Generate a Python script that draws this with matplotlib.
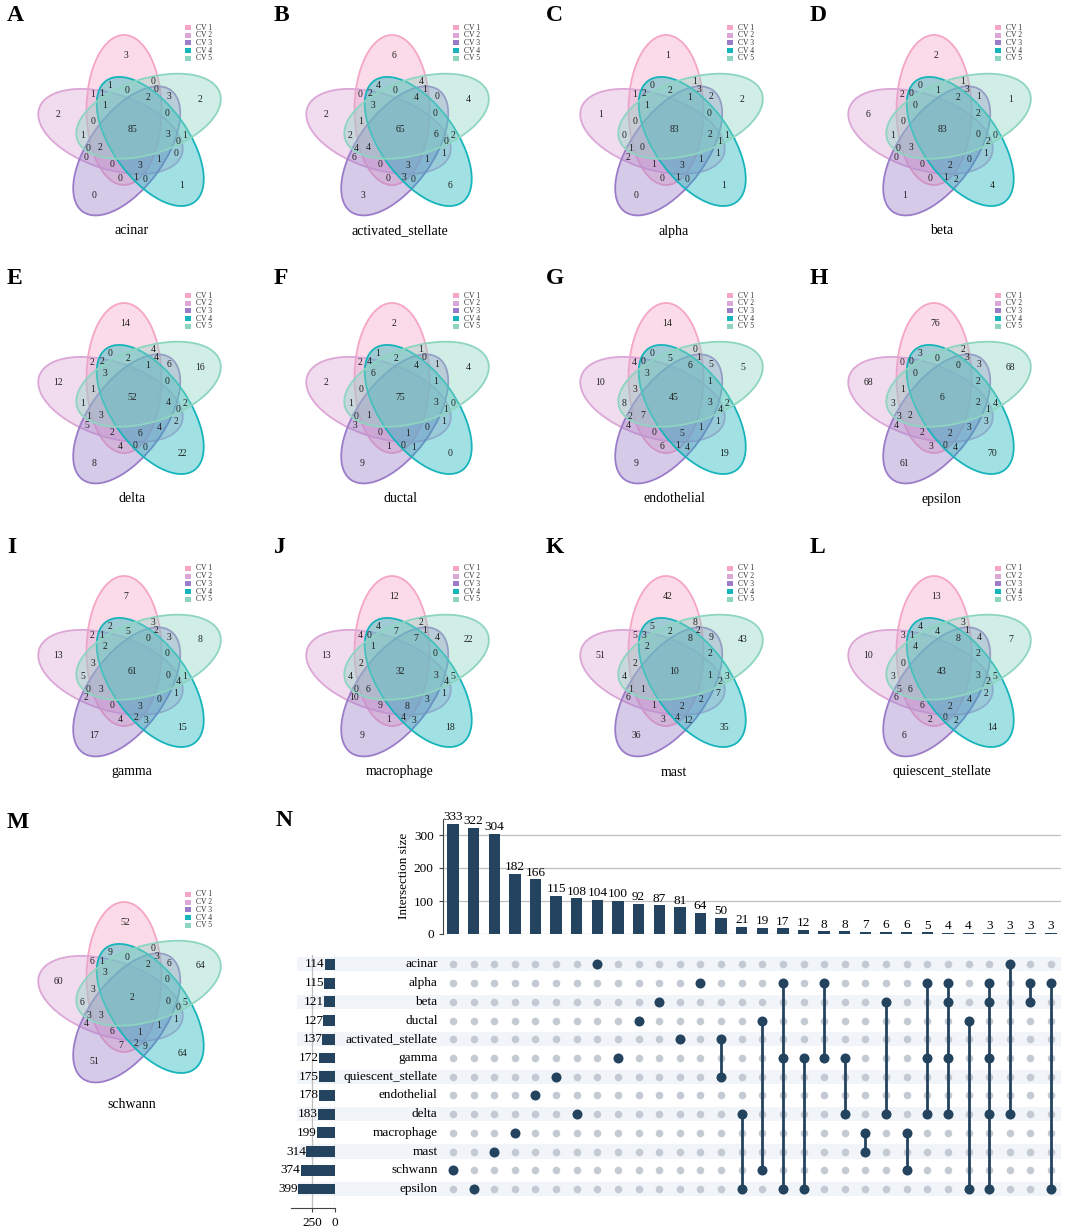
import numpy as np
import matplotlib
matplotlib.use('Agg')
import matplotlib.pyplot as plt
from matplotlib.patches import Ellipse, Rectangle
from matplotlib.colors import to_rgba
import matplotlib.transforms as mtransforms

plt.rcParams['font.family'] = ['Liberation Serif', 'DejaVu Serif']

W, H = 1065, 1228

# ---------------- Venn data (panels A-M) ----------------
cv_names = ['CV 1', 'CV 2', 'CV 3', 'CV 4', 'CV 5']
cv_colors = ['#F5A5C5', '#DCA6D6', '#9A7CC8', '#17B5BB', '#8ED5C1']

# which CV folds share the genes of a region (CV numbers)
region_keys = ['1', '2', '3', '4', '5', '12345',
               '14', '145', '15', '135', '1345', '35', '12', '124', '1245', '125',
               '345', '25', '2345', '45', '245', '235', '1235', '23', '123', '1234',
               '234', '24', '13', '134', '34']

acinar = [3, 2, 0, 1, 2, 85, 1, 0, 0, 0, 2, 3, 1, 1, 1, 0, 0, 1, 3, 1, 0, 0, 2, 0, 0, 3, 1, 0, 0, 1, 0]
activated_stellate = [6, 2, 3, 6, 4, 65, 4, 0, 4, 1, 4, 0, 0, 2, 3, 1, 0, 2, 6, 2, 0, 4, 4, 6, 0, 3, 1, 1, 0, 3, 0]
alpha = [1, 1, 0, 1, 2, 83, 0, 2, 1, 3, 1, 2, 1, 2, 1, 0, 0, 0, 2, 1, 1, 1, 0, 2, 1, 3, 1, 1, 0, 1, 0]
beta = [2, 6, 1, 4, 1, 83, 0, 1, 1, 3, 2, 1, 2, 0, 0, 0, 2, 1, 0, 0, 2, 0, 3, 0, 0, 2, 0, 1, 0, 1, 2]
delta = [14, 12, 8, 22, 16, 52, 0, 2, 4, 4, 1, 6, 2, 2, 3, 1, 0, 1, 4, 2, 0, 1, 3, 5, 2, 6, 4, 2, 4, 0, 0]
ductal = [2, 2, 9, 0, 4, 75, 1, 2, 1, 0, 4, 1, 2, 4, 6, 0, 1, 1, 3, 0, 1, 0, 1, 3, 0, 1, 0, 1, 1, 0, 1]
endothelial = [14, 10, 9, 19, 5, 45, 0, 5, 0, 1, 6, 5, 4, 0, 3, 3, 1, 8, 3, 2, 4, 2, 7, 4, 0, 5, 1, 1, 6, 1, 4]
epsilon = [76, 68, 61, 70, 68, 6, 3, 0, 2, 3, 0, 3, 0, 0, 0, 1, 2, 3, 2, 4, 1, 3, 2, 4, 2, 2, 3, 3, 3, 0, 4]
gamma = [7, 13, 17, 15, 8, 61, 2, 5, 3, 2, 0, 3, 2, 1, 2, 3, 0, 5, 0, 1, 4, 0, 3, 2, 0, 3, 0, 1, 4, 2, 3]
macrophage = [12, 13, 9, 18, 22, 32, 4, 7, 2, 1, 7, 4, 4, 0, 1, 2, 0, 4, 3, 5, 4, 0, 6, 10, 9, 8, 3, 1, 1, 4, 3]
mast = [42, 51, 36, 35, 43, 10, 5, 2, 8, 2, 8, 9, 5, 3, 2, 2, 2, 4, 1, 3, 2, 1, 1, 6, 1, 2, 2, 7, 3, 4, 12]
quiescent_stellate = [13, 10, 6, 14, 7, 43, 4, 4, 3, 1, 8, 4, 3, 1, 4, 0, 2, 3, 3, 5, 2, 5, 6, 6, 6, 2, 4, 2, 2, 0, 2]
schwann = [52, 60, 51, 64, 64, 2, 9, 0, 0, 3, 2, 6, 6, 1, 3, 3, 0, 6, 0, 5, 0, 3, 3, 4, 6, 1, 1, 1, 7, 2, 9]

panels = [
    ('A', 'acinar', acinar), ('B', 'activated_stellate', activated_stellate),
    ('C', 'alpha', alpha), ('D', 'beta', beta),
    ('E', 'delta', delta), ('F', 'ductal', ductal),
    ('G', 'endothelial', endothelial), ('H', 'epsilon', epsilon),
    ('I', 'gamma', gamma), ('J', 'macrophage', macrophage),
    ('K', 'mast', mast), ('L', 'quiescent_stellate', quiescent_stellate),
    ('M', 'schwann', schwann),
]

# ---------------- UpSet data (panel N) ----------------
cell_types = ['acinar', 'alpha', 'beta', 'ductal', 'activated_stellate', 'gamma',
              'quiescent_stellate', 'endothelial', 'delta', 'macrophage', 'mast',
              'schwann', 'epsilon']
set_sizes = [114, 115, 121, 127, 137, 172, 175, 178, 183, 199, 314, 374, 399]
inter_sizes = [333, 322, 304, 182, 166, 115, 108, 104, 100, 92, 87, 81, 64, 50, 21,
               19, 17, 12, 8, 8, 7, 6, 6, 5, 4, 4, 3, 3, 3, 3]
inter_members = [
    ['schwann'], ['epsilon'], ['mast'], ['macrophage'], ['endothelial'],
    ['quiescent_stellate'], ['delta'], ['acinar'], ['gamma'], ['ductal'], ['beta'],
    ['activated_stellate'], ['alpha'], ['activated_stellate', 'quiescent_stellate'],
    ['delta', 'epsilon'], ['ductal', 'schwann'], ['alpha', 'gamma', 'epsilon'],
    ['gamma', 'epsilon'], ['alpha', 'gamma'], ['gamma', 'delta'], ['macrophage', 'mast'],
    ['beta', 'delta'], ['macrophage', 'schwann'], ['alpha', 'gamma', 'delta'],
    ['alpha', 'beta', 'gamma', 'delta'], ['ductal', 'epsilon'],
    ['alpha', 'beta', 'gamma', 'delta', 'epsilon'], ['acinar', 'delta'],
    ['alpha', 'beta'], ['alpha', 'epsilon'],
]

# ---------------- layout ----------------
col_x = [132, 400, 674, 942]
row_y = [130, 398, 671, 997]
letter_x = [7, 274, 546, 810]
letter_y = [5, 268, 537, 812]

semi_a, semi_b = 75.0, 37.5
off_along, off_perp = 20.0, 8.0
angles = [90 + 72 * k for k in range(5)]


def ell_centre(k):
    t = np.deg2rad(angles[k])
    return (off_along * np.cos(t) - off_perp * np.sin(t),
            off_along * np.sin(t) + off_perp * np.cos(t))


# label position of each region = point furthest from all ellipse edges
gx, gy = np.meshgrid(np.arange(-90, 90.01, 0.5), np.arange(-90, 90.01, 0.5))
code = np.zeros(gx.shape, dtype=int)
dmin = np.full(gx.shape, np.inf)
for k in range(5):
    ex, ey = ell_centre(k)
    t = np.deg2rad(angles[k])
    u = (gx - ex) * np.cos(t) + (gy - ey) * np.sin(t)
    v = -(gx - ex) * np.sin(t) + (gy - ey) * np.cos(t)
    g = np.sqrt((u / semi_a) ** 2 + (v / semi_b) ** 2)
    grad = np.sqrt((u / semi_a ** 2) ** 2 + (v / semi_b ** 2) ** 2) / np.maximum(g, 1e-9)
    dmin = np.minimum(dmin, np.abs(g - 1) / np.maximum(grad, 1e-9))
    code += (g < 1).astype(int) << k

label_pos = {}
for key in region_keys:
    c = sum(1 << (int(ch) - 1) for ch in key)
    i = np.argmax(np.where(code == c, dmin, -1))
    label_pos[key] = (gx.flat[i], gy.flat[i])


def box(x0, y0, x1, y1):
    return [x0 / W, 1 - y1 / H, (x1 - x0) / W, (y1 - y0) / H]


fig = plt.figure(figsize=(W / 100, H / 100), dpi=100)
canvas = fig.add_axes([0, 0, 1, 1])
canvas.set_xlim(0, W)
canvas.set_ylim(H, 0)
canvas.axis('off')

for n, (letter, title, vals) in enumerate(panels):
    r, c = divmod(n, 4)
    cx, cy = col_x[c], row_y[r]
    for k in range(5):
        ex, ey = ell_centre(k)
        canvas.add_patch(Ellipse((cx + ex, cy - ey), 2 * semi_a, 2 * semi_b, angle=-angles[k],
                                 facecolor=to_rgba(cv_colors[k], 0.4),
                                 edgecolor=cv_colors[k], lw=1.3))
    for key, val in zip(region_keys, vals):
        px, py = label_pos[key]
        canvas.text(cx + px, cy - py, str(val), ha='center', va='center',
                    fontsize=7, color='#222222')
    for k in range(5):
        ly = cy - 102.5 + k * 7.7
        canvas.add_patch(Rectangle((cx + 53, ly - 2.5), 6, 5, color=cv_colors[k], lw=0))
        canvas.text(cx + 64, ly, cv_names[k], ha='left', va='center', fontsize=5.5,
                    color='#333333')
    tdy = 101 if r < 3 else 108
    canvas.text(cx, cy + tdy, title, ha='center', va='center', fontsize=10)
    canvas.text(letter_x[c], letter_y[r], letter, ha='left', va='top',
                fontsize=17, fontweight='bold')

canvas.text(276, 810, 'N', ha='left', va='top', fontsize=17, fontweight='bold')

# ---------------- UpSet plot ----------------
navy = '#24435E'
grey_dot = '#C3CAD3'
n_cols = len(inter_sizes)
n_rows = len(cell_types)

bar_ax = fig.add_axes(box(442.7, 818.5, 1061.3, 934))
bar_ax.set_facecolor('none')
xs = np.arange(n_cols)
bar_ax.bar(xs, inter_sizes, width=0.55, color=navy, zorder=3)
for x, v in zip(xs, inter_sizes):
    bar_ax.text(x, v + 2, str(v), ha='center', va='bottom', fontsize=9.5)
bar_ax.set_xlim(-0.5, n_cols - 0.5)
bar_ax.set_ylim(0, 350)
bar_ax.set_yticks([0, 100, 200, 300])
bar_ax.set_xticks([])
for y in [0, 100, 200, 300]:
    bar_ax.axhline(y, color='#BFBFBF', lw=0.9, zorder=1)
for s in ['top', 'right', 'bottom']:
    bar_ax.spines[s].set_visible(False)
bar_ax.spines['left'].set_color('#444444')
bar_ax.tick_params(axis='y', labelsize=9.5, length=3, color='#444444')
bar_ax.set_ylabel('Intersection size', fontsize=9.5, labelpad=3)

mat_ax = fig.add_axes(box(442.7, 955, 1061.3, 1198.4))
mat_ax.set_facecolor('none')
mat_ax.set_xlim(-0.5, n_cols - 0.5)
mat_ax.set_ylim(n_rows - 0.5, -0.5)
mat_ax.axis('off')

# alternating row stripes behind set sizes, labels and matrix
stripe_tr = mtransforms.blended_transform_factory(canvas.transData, mat_ax.transData)
for i in range(0, n_rows, 2):
    canvas.add_patch(Rectangle((297, i - 0.38), 1061 - 297, 0.76, transform=stripe_tr,
                               color='#F1F4F8', lw=0, zorder=0))

gxx, gyy = np.meshgrid(xs, np.arange(n_rows))
mat_ax.scatter(gxx.ravel(), gyy.ravel(), s=30, color=grey_dot, lw=0, zorder=2)
for x, members in enumerate(inter_members):
    rows = [cell_types.index(m) for m in members]
    if len(rows) > 1:
        mat_ax.plot([x, x], [min(rows), max(rows)], color=navy, lw=2.0, zorder=3)
    mat_ax.scatter([x] * len(rows), rows, s=52, color=navy, lw=0, zorder=4)
for i, name in enumerate(cell_types):
    mat_ax.text(-0.75, i, name, ha='right', va='center', fontsize=9.5,
                transform=mtransforms.blended_transform_factory(mat_ax.transData, mat_ax.transData))

set_ax = fig.add_axes(box(291, 955, 335, 1208.4))
set_ax.set_facecolor('none')
set_ax.barh(np.arange(n_rows), set_sizes, height=0.58, color=navy, zorder=3)
for i, v in enumerate(set_sizes):
    set_ax.text(v, i, str(v), ha='right', va='center', fontsize=9.5, zorder=4)
set_ax.set_xlim(478, 0)
set_ax.set_ylim(n_rows - 0.5 + 10 / 18.72, -0.5)
set_ax.set_yticks([])
set_ax.set_xticks([250, 0])
set_ax.axvline(250, color='#BFBFBF', lw=0.9, zorder=1)
set_ax.axvline(0, color='#BFBFBF', lw=0.9, zorder=1)
for s in ['top', 'right', 'left']:
    set_ax.spines[s].set_visible(False)
set_ax.spines['bottom'].set_color('#444444')
set_ax.tick_params(axis='x', labelsize=9.5, length=3, color='#444444')

fig.savefig('out.png', dpi=100)
